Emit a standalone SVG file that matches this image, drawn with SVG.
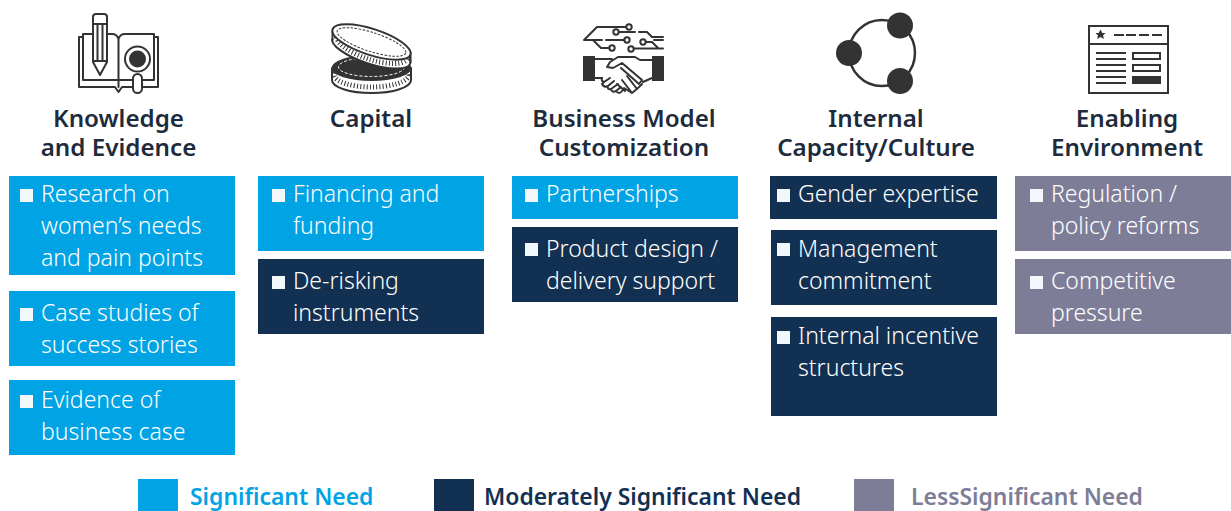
<svg xmlns="http://www.w3.org/2000/svg" width="1231" height="511" viewBox="0 0 1231 511">
<style>
text{font-family:"Noto Sans","Open Sans","Liberation Sans",sans-serif}
.h{font-size:24.2px;font-weight:600;fill:#1d2b3c;text-anchor:middle}
.t{font-size:23px;font-weight:300;fill:#fff}
.b{fill:#f2f7fb}
.c{fill:#00a3e4}.n{fill:#123052}.g{fill:#7e7d98}
.l{font-size:22.9px;font-weight:600}
.i{fill:none;stroke:#333;stroke-width:2;stroke-linejoin:round;stroke-linecap:round}
.f{fill:#333;stroke:none}
.w{fill:#fff;stroke:#333;stroke-width:2;stroke-linejoin:round}
</style>
<rect width="1231" height="511" fill="#fff"/>
<g id="connectors"/>
<g id="icon-knowledge">
<path class="i" d="M83 37H79V87H115L118.500 92L122 87H158V37H154"/>
<path class="i" d="M83 80V34H112Q117 34 118.500 39V87M118.500 39Q120 34 125 34H154V80H142M133 80H83"/>
<path class="w" d="M93 17Q93 14 96 14H104Q107 14 107 17V62L100 75L93 62Z"/>
<path class="i" d="M93 24H107M97.500 24V60M102.500 24V60M93 61H107"/>
<rect class="w" x="133" y="74" width="9" height="19" rx="4.500"/>
<circle class="w" cx="137.500" cy="59" r="12.500"/>
<circle class="f" cx="137.500" cy="59" r="8.500"/>
</g>
<g id="icon-capital">
<ellipse class="w" cx="371.500" cy="80" rx="39.500" ry="13"/>
<rect x="332" y="68" width="79" height="12" fill="#fff"/>
<path class="i" d="M332 68V80M411 68V80"/>
<ellipse cx="371.500" cy="75" rx="37" ry="12" fill="none" stroke="#333" stroke-width="5" stroke-dasharray="1 2.200"/>
<ellipse class="f" cx="371.500" cy="68" rx="40" ry="13"/>
<ellipse cx="371.500" cy="67" rx="33" ry="9.500" fill="none" stroke="#fff" stroke-dasharray="3 2"/>
<g transform="rotate(18 371.500 42)">
<ellipse class="w" cx="374" cy="50.500" rx="41" ry="13"/>
<rect x="330.500" y="42" width="82" height="9" fill="#fff"/>
</g>
<ellipse cx="372" cy="47" rx="37" ry="12.500" transform="rotate(18 372 47)" fill="none" stroke="#333" stroke-width="5" stroke-dasharray="1 2.200"/>
<path class="i" d="M332.500 31V40M410.500 53V62"/>
<ellipse class="w" cx="371.500" cy="42" rx="41" ry="13" transform="rotate(18 371.500 42)"/>
<ellipse cx="371.500" cy="42" rx="36" ry="9.500" transform="rotate(18 371.500 42)" fill="none" stroke="#333" stroke-dasharray="2.500 1.500"/>
</g>
<g id="icon-business">
<g class="i">
<path d="M584 40L597 27H626M584 40H593L601 48H609.500M584 40H602M606 40H624.500M619 32H635M639 32H647L652 37H663M646 42H652L658 48M634 48.500H663M654 40H663"/>
<circle cx="629" cy="27" r="2.700"/><circle cx="616" cy="32" r="2.700"/><circle cx="627" cy="40" r="2.700"/><circle cx="643" cy="42" r="2.700"/><circle cx="612" cy="48" r="2.700"/><circle cx="631" cy="49" r="2.700"/>
<path d="M595 59H612M652 60H640L635 57H618L610 62L607 67L613 68L622 63L642 80L639 84L621 68M595 78H602M652 78L643 82"/>
<path d="M602 78Q601 81 604 82L602 84Q604 88 608 86Q607 90 611 89Q612 93 616 91Q619 95 622 91L624 88L632 93L638 88L642 84M610 78L604 82M614 81L608 86M618 84L611 89M621 87L616 91M627 76L637 89M622 80L632 93M617 84L625 91"/>
</g>
<rect class="f" x="583" y="56" width="12" height="25"/><rect class="f" x="652" y="56" width="12" height="25"/>
</g>
<g id="icon-capacity">
<circle cx="882" cy="53" r="33" fill="none" stroke="#333" stroke-width="2.500"/>
<circle class="f" cx="849" cy="53" r="13"/><circle class="f" cx="900" cy="25.500" r="13"/><circle class="f" cx="900" cy="81" r="13"/>
</g>
<g id="icon-enabling">
<rect x="1089" y="26" width="79" height="67" fill="#fff" stroke="#333" stroke-width="2"/>
<path d="M1089 44H1168" stroke="#333" stroke-width="2"/>
<path class="f" d="M1100.500 29.500L1102.300 33H1105.500L1103 35.500L1104 39L1100.500 37L1097 39L1098 35.500L1095.500 33H1098.700Z"/>
<path d="M1114 35H1124M1126 35H1136M1139 35H1149M1152 35H1162M1096 53H1126M1096 59H1126M1096 65H1126M1096 71H1126M1096 77H1126M1096 83H1126" stroke="#333" stroke-width="2" fill="none"/>
<rect x="1133" y="53" width="27" height="6" fill="#fff" stroke="#333" stroke-width="2"/>
<rect x="1133" y="65" width="27" height="6" fill="#fff" stroke="#333" stroke-width="2"/>
<rect class="f" x="1132" y="76" width="29" height="8"/>
</g>
<g id="col-1">
<text class="h" x="118.500" y="127">Knowledge</text><text class="h" x="118.500" y="156">and Evidence</text>
<g id="k1"><rect class="c" x="9" y="176" width="226" height="99"/><rect class="b" x="20" y="189" width="13" height="13"/><text class="t" x="41" y="202">Research on</text><text class="t" x="41" y="234">women’s needs</text><text class="t" x="41" y="266">and pain points</text></g>
<g id="k2"><rect class="c" x="9" y="291" width="226" height="75"/><rect class="b" x="20" y="308" width="13" height="13"/><text class="t" x="41" y="321">Case studies of</text><text class="t" x="41" y="353">success stories</text></g>
<g id="k3"><rect class="c" x="9" y="380" width="226" height="75"/><rect class="b" x="20" y="395" width="13" height="13"/><text class="t" x="41" y="408">Evidence of</text><text class="t" x="41" y="440">business case</text></g>
</g>
<g id="col-2">
<text class="h" x="371" y="127">Capital</text>
<g id="c1"><rect class="c" x="258" y="176" width="226" height="75"/><rect class="b" x="272" y="189" width="13" height="13"/><text class="t" x="293" y="202">Financing and</text><text class="t" x="293" y="234">funding</text></g>
<g id="c2"><rect class="n" x="258" y="259" width="226" height="75"/><rect class="b" x="272" y="276" width="13" height="13"/><text class="t" x="293" y="289">De-risking</text><text class="t" x="293" y="321">instruments</text></g>
</g>
<g id="col-3">
<text class="h" x="624" y="127">Business Model</text><text class="h" x="624" y="156">Customization</text>
<g id="b1"><rect class="c" x="512" y="176" width="226" height="43"/><rect class="b" x="525" y="189" width="13" height="13"/><text class="t" x="546" y="202">Partnerships</text></g>
<g id="b2"><rect class="n" x="512" y="227" width="226" height="75"/><rect class="b" x="525" y="243" width="13" height="13"/><text class="t" x="546" y="257">Product design /</text><text class="t" x="546" y="289">delivery support</text></g>
</g>
<g id="col-4">
<text class="h" x="876" y="127">Internal</text><text class="h" x="876" y="156">Capacity/Culture</text>
<g id="i1"><rect class="n" x="770" y="176" width="227" height="43"/><rect class="b" x="777" y="189" width="13" height="13"/><text class="t" x="798" y="202">Gender expertise</text></g>
<g id="i2"><rect class="n" x="771" y="230" width="226" height="75"/><rect class="b" x="777" y="243" width="13" height="13"/><text class="t" x="798" y="257">Management</text><text class="t" x="798" y="289">commitment</text></g>
<g id="i3"><rect class="n" x="771" y="317" width="226" height="99"/><rect class="b" x="777" y="331" width="13" height="13"/><text class="t" x="798" y="344">Internal incentive</text><text class="t" x="798" y="376">structures</text></g>
</g>
<g id="col-5">
<text class="h" x="1127" y="127">Enabling</text><text class="h" x="1127" y="156">Environment</text>
<g id="e1"><rect class="g" x="1015" y="176" width="216" height="75"/><rect class="b" x="1030" y="189" width="13" height="13"/><text class="t" x="1051" y="202">Regulation /</text><text class="t" x="1051" y="234">policy reforms</text></g>
<g id="e2"><rect class="g" x="1015" y="259" width="216" height="75"/><rect class="b" x="1030" y="276" width="13" height="13"/><text class="t" x="1051" y="289">Competitive</text><text class="t" x="1051" y="321">pressure</text></g>
</g>
<g id="legend">
<rect class="c" x="138" y="479" width="40" height="32"/><text class="l" x="190" y="505" fill="#00a3e4">Significant Need</text>
<rect class="n" x="434" y="479" width="40" height="32"/><text class="l" x="484" y="505" fill="#123052">Moderately Significant Need</text>
<rect class="g" x="854" y="479" width="40" height="32"/><text class="l" x="911" y="505" fill="#7e7d98">LessSignificant Need</text>
</g>
</svg>
